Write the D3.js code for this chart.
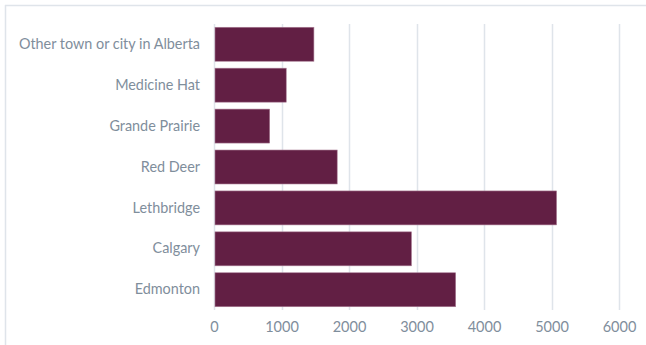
<!DOCTYPE html>
<html>
<head>
<meta charset="utf-8">
<script src="https://cdn.jsdelivr.net/npm/d3@7"></script>
<style>
  html, body { margin: 0; padding: 0; background: #ffffff; }
  svg { display: block; }
</style>
</head>
<body>
<svg id="chart" width="646" height="345"></svg>
<script>
// Cities, listed from top to bottom
const cities = ["Other town or city in Alberta", "Medicine Hat", "Grande Prairie", "Red Deer", "Lethbridge", "Calgary", "Edmonton"];
const counts = [1480, 1070, 825, 1825, 5075, 2925, 3580];
const xTicks = [0, 1000, 2000, 3000, 4000, 5000, 6000];

const svg = d3.select("#chart");
const W = 646, H = 345;
const margin = { left: 214, right: 27, top: 24, bottom: 35 };

const textColor = "#7f8e9c";
const gridColor = "#dfe4ea";
const barColor = "#621f44";
const fontFamily = "Lato, 'Open Sans', sans-serif";

// Outer frame (top and left edges visible)
svg.append("line").attr("x1", 5).attr("x2", W).attr("y1", 5.5).attr("y2", 5.5)
  .attr("stroke", gridColor).attr("stroke-width", 1.5);
svg.append("line").attr("x1", 5.5).attr("x2", 5.5).attr("y1", 5).attr("y2", H)
  .attr("stroke", gridColor).attr("stroke-width", 1.5);

const x = d3.scaleLinear().domain([0, 6000]).range([margin.left, W - margin.right]);
const y = d3.scaleBand().domain(cities).range([margin.top, H - margin.bottom]).paddingInner(0.17).paddingOuter(0.08);

// Vertical gridlines
svg.append("g").selectAll("line").data(xTicks).join("line")
  .attr("x1", d => Math.round(x(d)) + 0.5).attr("x2", d => Math.round(x(d)) + 0.5)
  .attr("y1", margin.top).attr("y2", H - margin.bottom)
  .attr("stroke", gridColor).attr("stroke-width", 1.5);

// Bars
svg.append("g").selectAll("rect").data(cities).join("rect")
  .attr("x", x(0) + 1)
  .attr("y", d => y(d))
  .attr("width", (d, i) => x(counts[i]) - x(0) - 1)
  .attr("height", y.bandwidth())
  .attr("fill", barColor)
  .attr("stroke", "#a87a93").attr("stroke-width", 0.6);

// X axis tick labels
const xAxis = d3.axisBottom(x).tickValues(xTicks).tickSize(0).tickPadding(0).tickFormat(d3.format("d"));
const gx = svg.append("g").attr("transform", `translate(0, ${H - margin.bottom + 22})`).call(xAxis);
gx.select(".domain").remove();
gx.selectAll("text").attr("fill", textColor).attr("font-size", 14.5).attr("font-family", fontFamily).attr("dy", "0");

// Category labels
const yAxis = d3.axisLeft(y).tickSize(0).tickPadding(0);
const gy = svg.append("g").attr("transform", `translate(${margin.left - 14}, 0)`).call(yAxis);
gy.select(".domain").remove();
gy.selectAll("text").attr("fill", textColor).attr("font-size", 14.4).attr("font-family", fontFamily);
</script>
</body>
</html>
